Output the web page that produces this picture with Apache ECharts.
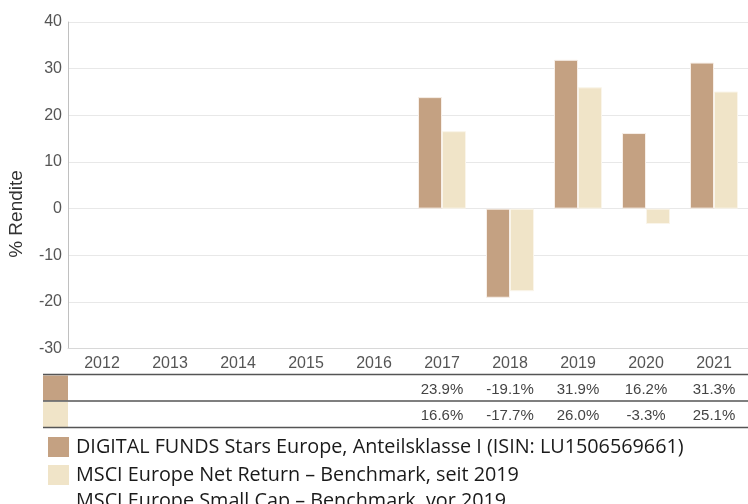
<!DOCTYPE html>
<html>
<head>
<meta charset="utf-8">
<script src="https://cdn.jsdelivr.net/npm/echarts@6/dist/echarts.min.js"></script>
<style>html,body{margin:0;padding:0;background:#fff}#c{width:748px;height:504px}</style>
</head>
<body>
<div id="c"></div>
<script>
var categories = ['2012','2013','2014','2015','2016','2017','2018','2019','2020','2021'];
var fundValues = [null, null, null, null, null, 23.9, -19.1, 31.9, 16.2, 31.3];
var benchValues = [null, null, null, null, null, 16.6, -17.7, 26.0, -3.3, 25.1];
var fundName = 'DIGITAL FUNDS Stars Europe, Anteilsklasse I (ISIN: LU1506569661)';
var benchName = 'MSCI Europe Net Return – Benchmark, seit 2019';
var benchName2 = 'MSCI Europe Small Cap – Benchmark, vor 2019';
var yAxisTitle = '% Rendite';

var fundColor = '#C4A182';
var benchColor = '#F0E4C8';

function fmt(arr) {
  return function (v, i) { return arr[i] == null ? '' : arr[i].toFixed(1) + '%'; };
}

var chart = echarts.init(document.getElementById('c'), null, {renderer: 'canvas'});
var tableAxisBase = {
  type: 'category', data: categories, position: 'bottom', gridIndex: 0,
  axisLine: {show: false}, axisTick: {show: false}, splitLine: {show: false},
  axisPointer: {show: false}
};
chart.setOption({
  animation: false,
  textStyle: {fontFamily: 'Liberation Sans, Arial, sans-serif'},
  grid: {left: 68, right: 0, top: 22, bottom: 155.4, containLabel: false},
  xAxis: [
    {
      type: 'category', data: categories, position: 'bottom',
      axisLine: {show: true, onZero: false, lineStyle: {color: '#d8d8d8', width: 1}},
      axisTick: {show: false},
      axisLabel: {color: '#555', fontSize: 16, margin: 7, interval: 0}
    },
    Object.assign({}, tableAxisBase, {
      offset: 41.5,
      axisLabel: {color: '#444', fontSize: 15, margin: 0, verticalAlign: 'middle', interval: 0, formatter: fmt(fundValues)}
    }),
    Object.assign({}, tableAxisBase, {
      offset: 67.2,
      axisLabel: {color: '#444', fontSize: 15, margin: 0, verticalAlign: 'middle', interval: 0, formatter: fmt(benchValues)}
    })
  ],
  yAxis: {
    type: 'value', min: -30, max: 40, interval: 10,
    axisLine: {show: true, lineStyle: {color: '#c0c0c0'}},
    axisTick: {show: false},
    splitLine: {show: true, lineStyle: {color: '#e8e8e8'}},
    axisLabel: {color: '#555', fontSize: 16, margin: 6}
  },
  legend: {
    orient: 'vertical', left: 48, top: 437, padding: 0, itemWidth: 21, itemHeight: 20, itemGap: 8,
    icon: 'rect', selectedMode: false,
    itemStyle: {borderWidth: 0},
    textStyle: {fontFamily: 'Open Sans', fontSize: 19.8, color: '#1a1a1a', padding: [0, 0, 0, 2]},
    data: [fundName, benchName]
  },
  series: [
    {
      name: fundName, type: 'bar', data: fundValues, barWidth: 24, barGap: '0%',
      itemStyle: {color: fundColor, borderColor: '#f7efe8', borderWidth: 1}
    },
    {
      name: benchName, type: 'bar', data: benchValues, barWidth: 24,
      itemStyle: {color: benchColor, borderColor: '#faf5ea', borderWidth: 1}
    }
  ],
  graphic: [
    {type: 'rect', shape: {x: 43, y: 375.5, width: 25, height: 25}, style: {fill: fundColor}, silent: true},
    {type: 'rect', shape: {x: 43, y: 402, width: 25, height: 25}, style: {fill: benchColor}, silent: true},
    {type: 'line', shape: {x1: 43, y1: 374.5, x2: 748, y2: 374.5}, style: {stroke: '#555', lineWidth: 1.5}, silent: true},
    {type: 'line', shape: {x1: 43, y1: 401, x2: 748, y2: 401}, style: {stroke: '#555', lineWidth: 1.5}, silent: true},
    {type: 'line', shape: {x1: 43, y1: 427.5, x2: 748, y2: 427.5}, style: {stroke: '#555', lineWidth: 1.5}, silent: true},
    {type: 'text', x: 76, y: 501, style: {text: benchName2, font: '19.8px "Open Sans"', fill: '#1a1a1a', textVerticalAlign: 'middle'}, silent: true},
    {type: 'text', x: 17, y: 214, rotation: Math.PI / 2, style: {text: yAxisTitle, font: '19px "Liberation Sans"', fill: '#333', textAlign: 'center', textVerticalAlign: 'middle'}, silent: true}
  ]
});
</script>
</body>
</html>
